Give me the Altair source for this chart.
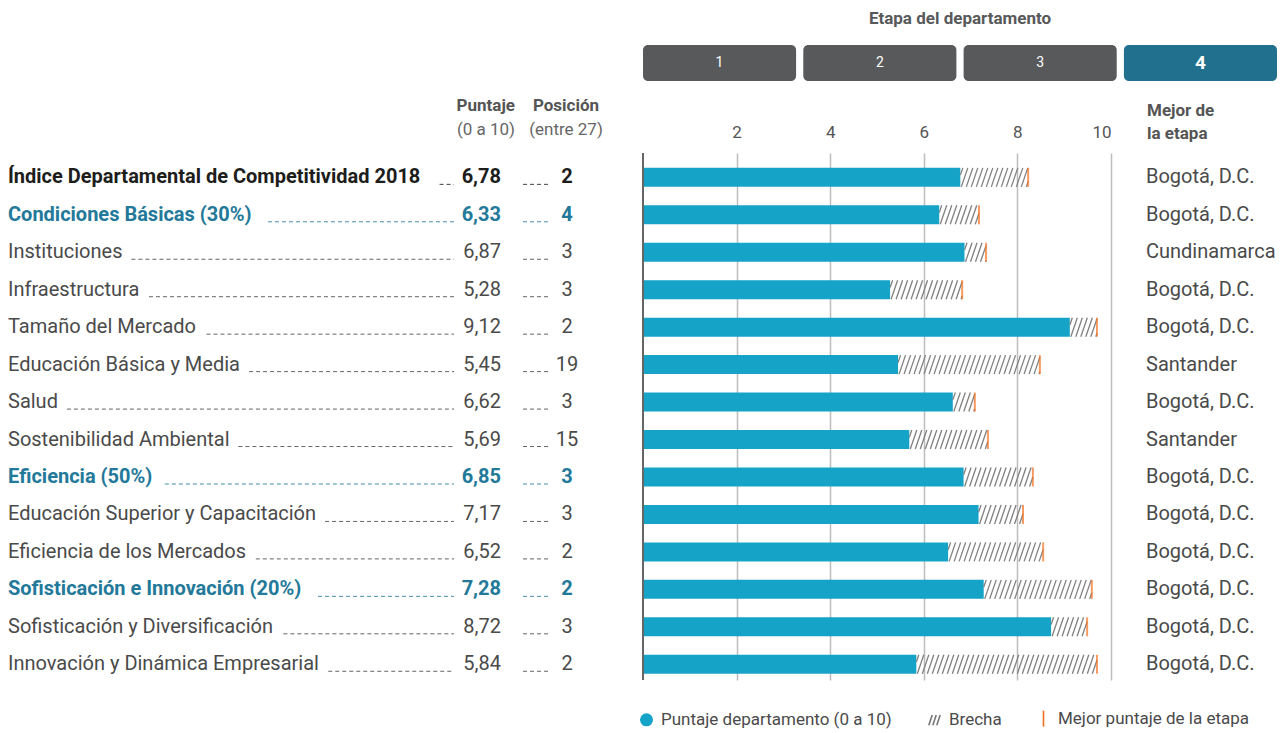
import altair as alt
import pandas as pd

# ---------------- data ----------------
labels = [
    "Índice Departamental de Competitividad 2018",
    "Condiciones Básicas (30%)",
    "Instituciones",
    "Infraestructura",
    "Tamaño del Mercado",
    "Educación Básica y Media",
    "Salud",
    "Sostenibilidad Ambiental",
    "Eficiencia (50%)",
    "Educación Superior y Capacitación",
    "Eficiencia de los Mercados",
    "Sofisticación e Innovación (20%)",
    "Sofisticación y Diversificación",
    "Innovación y Dinámica Empresarial",
]
levels = ["total", "pilar", "factor", "factor", "factor", "factor", "factor",
          "factor", "pilar", "factor", "factor", "pilar", "factor", "factor"]
scores = [6.78, 6.33, 6.87, 5.28, 9.12, 5.45, 6.62, 5.69, 6.85, 7.17, 6.52, 7.28, 8.72, 5.84]
positions = [2, 4, 3, 3, 2, 19, 3, 15, 3, 3, 2, 2, 3, 2]
best_scores = [8.23, 7.18, 7.33, 6.82, 9.70, 8.48, 7.09, 7.37, 8.33, 8.12, 8.55, 9.59, 9.49, 9.70]
best_dept = ["Bogotá, D.C.", "Bogotá, D.C.", "Cundinamarca", "Bogotá, D.C.", "Bogotá, D.C.",
             "Santander", "Bogotá, D.C.", "Santander", "Bogotá, D.C.", "Bogotá, D.C.",
             "Bogotá, D.C.", "Bogotá, D.C.", "Bogotá, D.C.", "Bogotá, D.C."]
stages = ["1", "2", "3", "4"]
current_stage = "4"
tick_values = [2, 4, 6, 8, 10]
legend_items = ["Puntaje departamento (0 a 10)", "Brecha", "Mejor puntaje de la etapa"]

# ---------------- style ----------------
FONT = "Roboto"
BLUE = "#16a3c8"
ORANGE = "#f37021"
TEAL = "#23799a"
STAGE_TEAL = "#21708e"
STAGE_GRAY = "#58595b"
DARK = "#1d1d1b"
TXT = "#4a4a4a"
HATCH = "#808080"
GRID = "#bdbdbd"

TOTAL_W = 1269
BAR_X0, BAR_X1 = 635, 1103          # pixel range of the 0..10 score axis
MAIN_H = 527
Y_MIN, Y_MAX = -0.65, 13.42
BAR_PX = 19
FS = 20

# approximate Roboto advance widths (em) used to place the dotted leaders
W = dict(zip("abcdefghijklmnopqrstuvwxyz",
             [.544, .561, .523, .564, .530, .347, .561, .551, .243, .239, .507, .243, .877,
              .552, .570, .561, .569, .338, .516, .327, .551, .484, .751, .496, .473, .496]))
W.update(dict(zip("ABCDEFGHIJKLMNOPQRSTUVWXYZ",
                  [.652, .624, .651, .656, .568, .553, .681, .713, .272, .552, .627, .538, .873,
                   .713, .688, .631, .688, .616, .593, .611, .649, .636, .887, .627, .601, .599])))
W.update({"á": .544, "é": .530, "í": .243, "ó": .570, "ú": .551, "ñ": .552, "Í": .272,
          " ": .248, "(": .342, ")": .348, "%": .732, ",": .196, ".": .263})
for d in "0123456789":
    W[d] = .561


def text_width(s, size, bold):
    return sum(W.get(c, .55) for c in s) * size * (1.04 if bold else 1.0)


def fmt(v):
    return f"{v:.2f}".replace(".", ",")


rows = pd.DataFrame({
    "idx": list(range(len(labels))),
    "label": labels,
    "level": levels,
    "score": scores,
    "score_txt": [fmt(v) for v in scores],
    "pos": [str(p) for p in positions],
    "best": best_scores,
    "best_dept": best_dept,
})
rows["lead_start"] = [text_width(l, FS, lv != "factor") + 9 for l, lv in zip(labels, levels)]

# hatch stripes filling the gap between the score and the best score of the stage
row_px = MAIN_H / (Y_MAX - Y_MIN)
x_px = (BAR_X1 - BAR_X0) / 10.0
half = (BAR_PX / 2) / row_px
pitch = 5.0 / x_px
slant = 6.5 / x_px
stripes = []
for i, (v, b) in enumerate(zip(scores, best_scores)):
    s = v - slant + pitch * 0.5
    while s < b:
        t0 = max(0.0, (v - s) / slant)
        t1 = min(1.0, (b - s) / slant)
        if t1 > t0:
            stripes.append(dict(x1=s + slant * t0, x2=s + slant * t1,
                                y1=i + half - 2 * half * t0, y2=i + half - 2 * half * t1))
        s += pitch
stripes = pd.DataFrame(stripes)

ys = alt.Scale(domain=[Y_MIN, Y_MAX], reverse=True, nice=False, zero=False, padding=0)
xs = alt.Scale(domain=[0, 10], range=[BAR_X0, BAR_X1], nice=False, zero=True, padding=0)
level_color = alt.Color("level:N", legend=None,
                        scale=alt.Scale(domain=["total", "pilar", "factor"], range=[DARK, TEAL, TXT]))
Y = alt.Y("idx:Q", scale=ys, axis=None)

dummy = pd.DataFrame({"a": [0]})

# ---------------- title + stages ----------------
title_panel = alt.Chart(dummy).mark_text(
    text="Etapa del departamento", font=FONT, fontSize=17, fontWeight="bold",
    color=STAGE_GRAY, align="center", baseline="middle"
).encode(x=alt.value(952), y=alt.value(11)).properties(width=TOTAL_W, height=37)

stage_df = pd.DataFrame({"stage": stages})
sbase = alt.Chart(stage_df).encode(
    x=alt.X("stage:N", sort=stages,
            scale=alt.Scale(range=[635, 1269], paddingInner=0.045, paddingOuter=0), axis=None))
stage_rect = sbase.mark_rect(cornerRadius=5).encode(
    color=alt.condition(alt.datum.stage == current_stage, alt.value(STAGE_TEAL), alt.value(STAGE_GRAY)))
stage_txt = sbase.transform_filter(alt.datum.stage != current_stage).mark_text(
    color="white", fontSize=14, font=FONT, baseline="middle").encode(text="stage:N", y=alt.value(18))
stage_cur = sbase.transform_filter(alt.datum.stage == current_stage).mark_text(
    color="white", fontSize=19, fontWeight="bold", font=FONT, baseline="middle").encode(
    text="stage:N", y=alt.value(18))
stages_chart = (stage_rect + stage_txt + stage_cur).properties(width=TOTAL_W, height=36)


# ---------------- column headers ----------------
def htext(txt, x, y, bold, align):
    return alt.Chart(dummy).mark_text(
        text=txt, font=FONT, fontSize=17, fontWeight="bold" if bold else "normal",
        color="#555555" if bold else "#666666", align=align, baseline="alphabetic"
    ).encode(x=alt.value(x), y=alt.value(y))


header_panel = alt.layer(
    htext("Puntaje", 507, 30, True, "right"),
    htext("(0 a 10)", 507, 54, False, "right"),
    htext("Posición", 558, 30, True, "center"),
    htext("(entre 27)", 558, 54, False, "center"),
    htext("Mejor de", 1139, 35, True, "left"),
    htext("la etapa", 1139, 58, True, "left"),
).properties(width=TOTAL_W, height=72)

# ---------------- left table ----------------
lbase = alt.Chart(rows)
reg = alt.datum.level == "factor"
bold = alt.datum.level != "factor"


def tlayer(filt, weight, field, x, align):
    return lbase.transform_filter(filt).mark_text(
        font=FONT, fontSize=FS, fontWeight=weight, align=align, baseline="middle"
    ).encode(x=alt.value(x), y=Y, text=f"{field}:N", color=level_color)


leader1 = lbase.mark_rule(strokeDash=[4, 3], strokeWidth=1, yOffset=7, opacity=0.85).encode(
    x=alt.X("lead_start:Q", scale=alt.Scale(domain=[0, TOTAL_W], range=[0, TOTAL_W], nice=False, zero=True),
            axis=None),
    x2=alt.value(446), y=Y, color=level_color)
leader2 = lbase.mark_rule(strokeDash=[4, 3], strokeWidth=1, yOffset=7, opacity=0.85).encode(
    x=alt.value(515), x2=alt.value(542), y=Y, color=level_color)

# ---------------- bars ----------------
xaxis = alt.Axis(orient="top", values=tick_values, grid=True, gridColor=GRID, gridWidth=1.5,
                 domain=False, ticks=False, labelFontSize=17, labelColor="#555555",
                 labelFont=FONT, labelPadding=12, title=None)
bars = alt.Chart(rows).mark_bar(orient="horizontal", size=BAR_PX, color=BLUE).encode(
    x=alt.X("score:Q", scale=xs, axis=xaxis), y=Y)
hatch = alt.Chart(stripes).mark_rule(color=HATCH, strokeWidth=1.3).encode(
    x=alt.X("x1:Q", scale=xs, axis=None), x2="x2:Q", y=alt.Y("y1:Q", scale=ys, axis=None), y2="y2:Q")
best = alt.Chart(rows).mark_tick(orient="vertical", size=BAR_PX, thickness=2, color=ORANGE).encode(
    x=alt.X("best:Q", scale=xs, axis=None), y=Y)
zero_line = alt.Chart(dummy).mark_rule(color="#666666", strokeWidth=2).encode(
    x=alt.X("a:Q", scale=xs, axis=None))

leg = alt.Legend(orient="none", legendX=630, legendY=702, direction="horizontal", title=None,
                 labelFontSize=17, labelColor=TXT, labelFont=FONT, labelLimit=400, symbolSize=130,
                 symbolStrokeWidth=1.6, symbolOpacity=1, columnPadding=33, labelOffset=6)
leg_df = pd.DataFrame({"item": legend_items})
leg_colors = [BLUE, "#777777", ORANGE]
leg_shapes = ["circle",
              "M-1,0.9L-0.4,-0.9M-0.3,0.9L0.3,-0.9M0.4,0.9L1,-0.9",
              "M0,-1.4L0,1.4"]
legend_layer = alt.Chart(leg_df).mark_point(filled=True, opacity=0).encode(
    fill=alt.Fill("item:N", scale=alt.Scale(domain=legend_items, range=leg_colors), legend=leg),
    stroke=alt.Stroke("item:N", scale=alt.Scale(domain=legend_items, range=leg_colors), legend=leg),
    shape=alt.Shape("item:N", scale=alt.Scale(domain=legend_items, range=leg_shapes), legend=leg),
)

# ---------------- right labels ----------------
right = alt.Chart(rows).mark_text(font=FONT, fontSize=FS, color=TXT, align="left", baseline="middle").encode(
    x=alt.value(1138), y=Y, text="best_dept:N")

main_panel = alt.layer(
    leader1, leader2,
    tlayer(reg, "normal", "label", 0, "left"),
    tlayer(bold, "bold", "label", 0, "left"),
    tlayer(reg, "normal", "score_txt", 493, "right"),
    tlayer(bold, "bold", "score_txt", 493, "right"),
    tlayer(reg, "normal", "pos", 559, "center"),
    tlayer(bold, "bold", "pos", 559, "center"),
    bars, hatch, best, zero_line, legend_layer, right,
).resolve_scale(x="independent").properties(width=TOTAL_W, height=MAIN_H)

chart = alt.vconcat(title_panel, stages_chart, header_panel, main_panel, spacing=0, bounds="flush").properties(
    padding=0
).configure(font=FONT).configure_view(strokeWidth=0)

chart.save("out.html", embed_options={"renderer": "svg", "actions": False})
